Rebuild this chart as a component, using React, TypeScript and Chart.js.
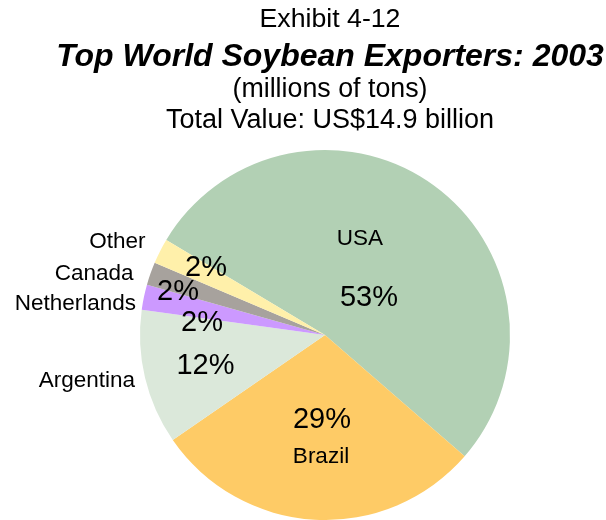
import React, { useEffect, useRef } from "react";
import { Chart, registerables } from "chart.js";

Chart.register(...registerables);

const categories = ["USA", "Brazil", "Argentina", "Netherlands", "Canada", "Other"];
const shares = [52.8, 29.0, 11.8, 2.2, 2.0, 2.2];
const colors = ["#b2d0b4", "#fecb66", "#dbe8da", "#cc99ff", "#a7a29d", "#fff0aa"];

const titleLines = [
  { text: "Exhibit 4-12", font: "26.7px 'Liberation Sans', Arial, sans-serif", y: 27 },
  { text: "Top World Soybean Exporters: 2003", font: "italic bold 32px 'Liberation Sans', Arial, sans-serif", y: 66 },
  { text: "(millions of tons)", font: "26.8px 'Liberation Sans', Arial, sans-serif", y: 97 },
  { text: "Total Value: US$14.9 billion", font: "27px 'Liberation Sans', Arial, sans-serif", y: 128 },
];

// label placement relative to pie centre (px, alphabetic baseline), per slice
const pctPos = [
  [44, -29],
  [-3, 93],
  [-119.5, 39],
  [-123, -4],
  [-147, -35],
  [-119, -59.5],
];
const namePos: [number, number, CanvasTextAlign][] = [
  [35, -90, "center"],
  [-4, 128, "center"],
  [-190, 52, "right"],
  [-189, -25, "right"],
  [-191.5, -55, "right"],
  [-179.5, -87, "right"],
];

const labelPlugin = {
  id: "labels",
  afterDatasetsDraw(chart: any) {
    const ctx = chart.ctx as CanvasRenderingContext2D;
    const meta = chart.getDatasetMeta(0);
    const arc = meta.data[0] as any;
    const cx = arc.x;
    const cy = arc.y;
    const total = shares.reduce((a, b) => a + b, 0);
    ctx.save();
    ctx.fillStyle = "#000";
    ctx.textBaseline = "alphabetic";
    ctx.textAlign = "center";
    titleLines.forEach((t) => {
      ctx.font = t.font;
      ctx.fillText(t.text, 330, t.y);
    });
    categories.forEach((name, i) => {
      const pct = Math.round((shares[i] / total) * 100) + "%";
      ctx.font = "29px 'Liberation Sans', Arial, sans-serif";
      ctx.textAlign = "center";
      ctx.fillText(pct, cx + pctPos[i][0], cy + pctPos[i][1]);
      ctx.font = "22.5px 'Liberation Sans', Arial, sans-serif";
      ctx.textAlign = namePos[i][2];
      ctx.fillText(name, cx + namePos[i][0], cy + namePos[i][1]);
    });
    ctx.restore();
  },
};

export default function App() {
  const ref = useRef<HTMLCanvasElement | null>(null);
  useEffect(() => {
    document.body.style.margin = "0";
    const c = ref.current;
    if (!c) return;
    const chart = new Chart(c, {
      type: "pie",
      data: {
        labels: categories,
        datasets: [
          {
            data: shares,
            backgroundColor: colors,
            borderWidth: 0,
          },
        ],
      },
      options: {
        responsive: false,
        animation: false,
        rotation: -59.1,
        layout: { padding: { top: 150, left: 140, right: 96, bottom: 0 } },
        plugins: {
          legend: { display: false },
          tooltip: { enabled: false },
          title: { display: false },
        },
      },
      plugins: [labelPlugin],
    });
    return () => chart.destroy();
  }, []);
  return (
    <div style={{ width: 606, height: 520, background: "#fff" }}>
      <canvas ref={ref} width={606} height={520} style={{ display: "block" }} />
    </div>
  );
}
